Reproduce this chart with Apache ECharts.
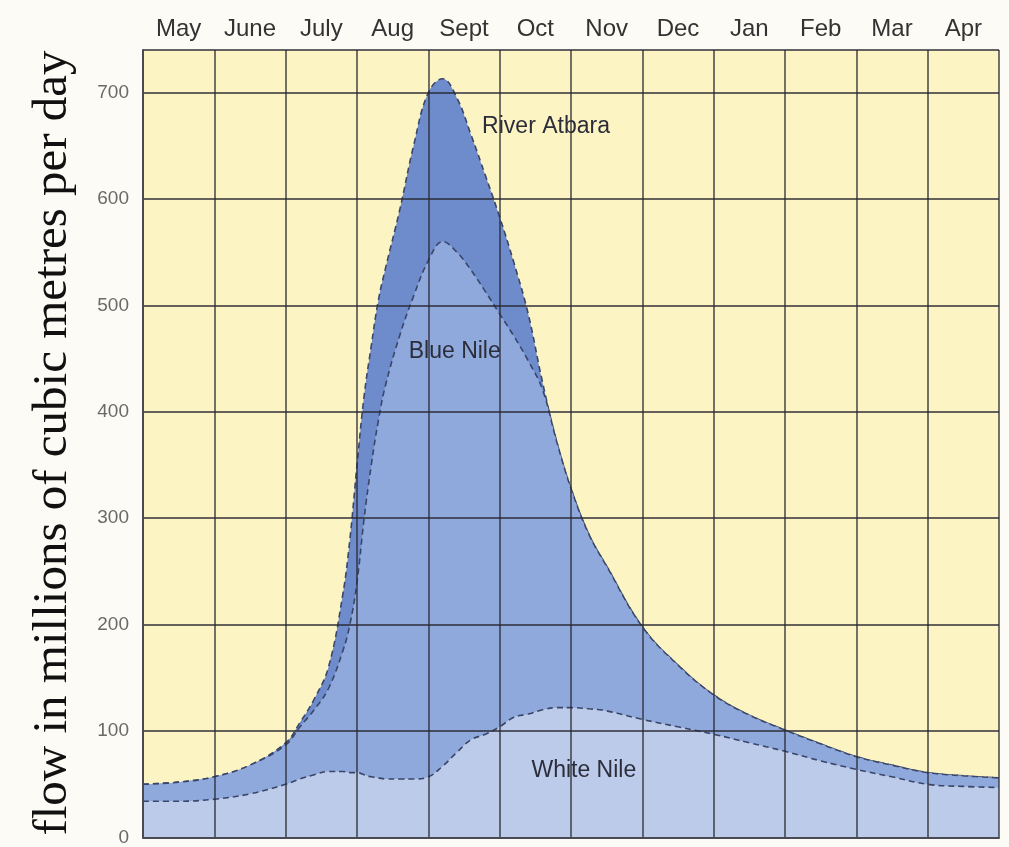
<!DOCTYPE html>
<html>
<head>
<meta charset="utf-8">
<script src="https://cdn.jsdelivr.net/npm/echarts@6/dist/echarts.min.js"></script>
<style>
html,body{margin:0;padding:0;background:#fcfbf5;}
#chart{width:1009px;height:847px;}
</style>
</head>
<body>
<div id="chart"></div>
<script>
// Month column labels (top axis)
const monthLabels = ['May','June','July','Aug','Sept','Oct','Nov','Dec','Jan','Feb','Mar','Apr'];
// x positions in months from the start of May
const xPos = [0,0.5,1,1.5,2,2.2,2.4,2.6,2.8,2.9,3.0,3.1,3.2,3.3,3.4,3.6,3.8,4.0,4.2,4.4,4.6,4.8,5.0,5.2,5.4,5.6,5.8,6.0,6.25,6.5,7,7.5,8,8.5,9,9.5,10,10.5,11,11.5,12];
// flow contributions, millions of cubic metres per day
const whiteNile = [34,34,36,41,50,55,59,62,62,61,61,59,57,56,55,55,55,57,67,80,92,97,104,113,116,120,122,122,121,119,111,104,97,89,81,72,64,57,50,48,47];
const blueNile  = [16,18,21,27,37,49,61,78,113,139,179,241,293,336,370,417,455,485,493,470,441,416,388,358,332,301,250,206,164,136,87,58,37,26,20,16,12,11,11,10,9];
const atbara    = [0,0,0,0,2,4,10,20,53,80,110,115,112,113,110,118,142,158,153,145,127,109,91,69,44,7,0,0,0,0,0,0,0,0,0,0,0,0,0,0,0];
// label anchors [month, value]
const labelAtbara = [5.65, 668];
const labelBlue = [4.37, 457];
const labelWhite = [6.18, 63];

// cumulative tops of each layer (layers are drawn overlapping, bottom layer last)
const whiteTop = whiteNile.slice();
const blueTop = whiteNile.map((v,i)=>v + blueNile[i]);
const atbaraTop = blueTop.map((v,i)=>v + atbara[i]);
function pairs(vals){ return xPos.map((x,i)=>[x, vals[i]]); }

const lineStyle = {color:'#3a4668', width:1.6, type:[6,4]};
function labelPoint(name, coord){
  return {
    symbol:'rect', symbolSize:[1,1], silent:true,
    itemStyle:{color:'rgba(0,0,0,0)'},
    label:{show:true, position:'inside', formatter:name, color:'#2b2d3a',
      fontFamily:'Liberation Sans, Arial, sans-serif', fontSize:23},
    data:[{coord:coord}]
  };
}

const chart = echarts.init(document.getElementById('chart'), null, {renderer:'canvas'});
chart.setOption({
  animation:false,
  backgroundColor:'#fcfbf5',
  grid:{left:143, right:10, top:50, bottom:9, show:true, backgroundColor:'#fcf4c3', borderWidth:0},
  xAxis:[
    {type:'value', min:0, max:12, interval:1, z:10,
     axisLabel:{show:false}, axisTick:{show:false},
     axisLine:{show:true, lineStyle:{color:'#4a4a55', width:2}},
     splitLine:{show:true, lineStyle:{color:'rgba(40,40,50,0.72)', width:1.8}}},
    {type:'category', position:'top', data:monthLabels, boundaryGap:true, z:10,
     axisLine:{show:false}, axisTick:{show:false}, splitLine:{show:false},
     axisLabel:{margin:9, color:'#333', fontSize:24,
       fontFamily:'Liberation Sans, Arial, sans-serif'}}
  ],
  yAxis:{type:'value', min:0, max:740, interval:100, z:10,
    axisLine:{show:true, lineStyle:{color:'#4a4a55', width:2}},
    axisTick:{show:false},
    axisLabel:{showMaxLabel:false, margin:14, color:'#6a6a6a', fontSize:19,
      padding:[0,0,14,0], fontFamily:'Liberation Sans, Arial, sans-serif'},
    splitLine:{show:true, lineStyle:{color:'rgba(40,40,50,0.72)', width:1.8}}},
  graphic:[{
    type:'text', x:53, y:443, rotation:Math.PI/2,
    style:{text:'flow in millions of cubic metres per day', fill:'#111',
      font:'49px "Liberation Serif", "Times New Roman", serif',
      textAlign:'center', textVerticalAlign:'middle'}
  }],
  series:[
    {name:'River Atbara', type:'line', data:pairs(atbaraTop),
     smooth:0.4, symbol:'none', lineStyle:lineStyle,
     areaStyle:{color:'#6e8bcb', opacity:1}, z:2,
     markPoint:labelPoint('River Atbara', labelAtbara)},
    {name:'Blue Nile', type:'line', data:pairs(blueTop),
     smooth:0.4, symbol:'none', lineStyle:lineStyle,
     areaStyle:{color:'#8fa9dc', opacity:1}, z:3,
     markPoint:labelPoint('Blue Nile', labelBlue)},
    {name:'White Nile', type:'line', data:pairs(whiteTop),
     smooth:0.4, symbol:'none', lineStyle:lineStyle,
     areaStyle:{color:'#bdcbea', opacity:1}, z:4,
     markPoint:labelPoint('White Nile', labelWhite)}
  ]
});
</script>
</body>
</html>
